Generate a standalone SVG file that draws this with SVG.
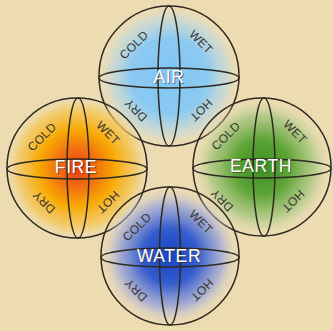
<svg xmlns="http://www.w3.org/2000/svg" width="333" height="331" viewBox="0 0 333 331">
<style>
.ln{fill:none;stroke:#2e2a22;stroke-width:1.5}
.q{font-family:"Liberation Sans",Arial,sans-serif;font-size:12px;fill:#38362e;text-anchor:middle;dominant-baseline:central;letter-spacing:0.3px}
.t{font-family:"Liberation Sans",Arial,sans-serif;font-size:17.5px;fill:#ffffff;text-anchor:middle;letter-spacing:0.6px}
.s{font-family:"Liberation Sans",Arial,sans-serif;font-size:17.5px;fill:#3a3020;fill-opacity:0.6;text-anchor:middle;letter-spacing:0.6px}
</style>
<defs>
<radialGradient id="gAir">
<stop offset="0" stop-color="#80c4f4"/>
<stop offset="0.55" stop-color="#8ccaf2"/>
<stop offset="0.85" stop-color="#c8dad8" stop-opacity="0.7"/>
<stop offset="1" stop-color="#e6dcc0" stop-opacity="0"/>
</radialGradient>
<radialGradient id="gFire">
<stop offset="0" stop-color="#ec3c10"/>
<stop offset="0.25" stop-color="#f26a10"/>
<stop offset="0.55" stop-color="#f8aa04"/>
<stop offset="0.85" stop-color="#f4c860" stop-opacity="0.8"/>
<stop offset="1" stop-color="#f0d890" stop-opacity="0"/>
</radialGradient>
<radialGradient id="gEarth">
<stop offset="0" stop-color="#389022"/>
<stop offset="0.4" stop-color="#5ea436"/>
<stop offset="0.75" stop-color="#acc884" stop-opacity="0.85"/>
<stop offset="1" stop-color="#e0dcb0" stop-opacity="0"/>
</radialGradient>
<radialGradient id="gWater">
<stop offset="0" stop-color="#1644c4"/>
<stop offset="0.4" stop-color="#345cce"/>
<stop offset="0.75" stop-color="#a2aad6" stop-opacity="0.85"/>
<stop offset="1" stop-color="#ded6c8" stop-opacity="0"/>
</radialGradient>
</defs>
<rect width="333" height="331" fill="#eddcb2"/>

<g id="air">
<circle cx="169" cy="76" r="70" fill="url(#gAir)"/>
<ellipse class="ln" cx="169" cy="78" rx="70" ry="10"/>
<ellipse class="ln" cx="169" cy="76" rx="11" ry="70"/>
<circle class="ln" cx="169" cy="76" r="70"/>
<text class="q" transform="translate(134,45) rotate(-45)">COLD</text>
<text class="q" transform="translate(201,42) rotate(45)">WET</text>
<text class="q" transform="translate(136,110) rotate(-135)">DRY</text>
<text class="q" transform="translate(201,110) rotate(135)">HOT</text>
<text class="s" x="170" y="84">AIR</text>
<text class="t" x="169" y="83">AIR</text>
</g>

<g id="fire">
<circle cx="77" cy="168" r="70" fill="url(#gFire)"/>
<ellipse class="ln" cx="77" cy="169" rx="70" ry="10"/>
<ellipse class="ln" cx="78" cy="168" rx="11" ry="70"/>
<circle class="ln" cx="77" cy="168" r="70"/>
<text class="q" transform="translate(42,137) rotate(-45)">COLD</text>
<text class="q" transform="translate(108,133) rotate(45)">WET</text>
<text class="q" transform="translate(44,202) rotate(-135)">DRY</text>
<text class="q" transform="translate(108,202) rotate(135)">HOT</text>
<text class="s" x="77" y="174">FIRE</text>
<text class="t" x="76" y="173">FIRE</text>
</g>

<g id="earth">
<circle cx="262" cy="167" r="69" fill="url(#gEarth)"/>
<ellipse class="ln" cx="262" cy="168.5" rx="69" ry="9.5"/>
<ellipse class="ln" cx="264" cy="167" rx="11" ry="69"/>
<circle class="ln" cx="262" cy="167" r="69"/>
<text class="q" transform="translate(226,136) rotate(-45)">COLD</text>
<text class="q" transform="translate(295,132) rotate(45)">WET</text>
<text class="q" transform="translate(222,200) rotate(-135)">DRY</text>
<text class="q" transform="translate(293,201) rotate(135)">HOT</text>
<text class="s" x="262" y="173">EARTH</text>
<text class="t" x="261" y="172">EARTH</text>
</g>

<g id="water">
<circle cx="170" cy="256" r="69" fill="url(#gWater)"/>
<ellipse class="ln" cx="170" cy="257.5" rx="69" ry="9.5"/>
<ellipse class="ln" cx="170" cy="256" rx="10.5" ry="69"/>
<circle class="ln" cx="170" cy="256" r="69"/>
<text class="q" transform="translate(137,227) rotate(-45)">COLD</text>
<text class="q" transform="translate(201,222) rotate(45)">WET</text>
<text class="q" transform="translate(136,290) rotate(-135)">DRY</text>
<text class="q" transform="translate(202,290) rotate(135)">HOT</text>
<text class="s" x="170" y="263">WATER</text>
<text class="t" x="169" y="262">WATER</text>
</g>

<g id="connectors"></g>
</svg>
